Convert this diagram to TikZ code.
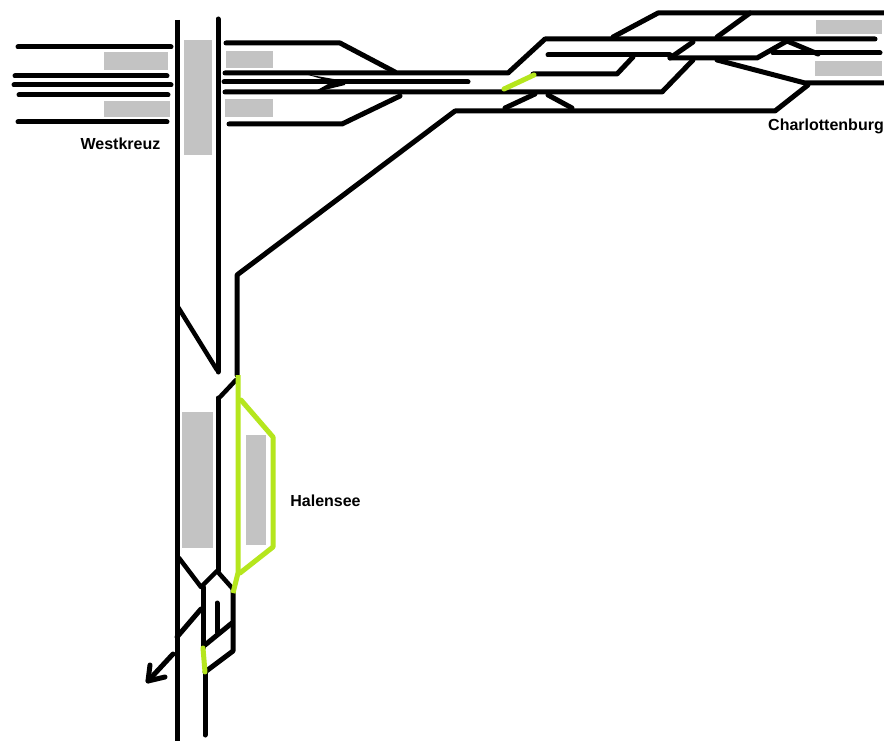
\documentclass[tikz,border=0pt]{standalone}
\usepackage{fontspec}
\setmainfont{Liberation Sans}
\definecolor{platgray}{HTML}{C3C3C3}
\definecolor{limeline}{HTML}{B5E61D}
\tikzset{
  track/.style={draw=black,line width=5pt,line cap=round,line join=round},
  thin track/.style={draw=black,line width=4.5pt,line cap=round,line join=round},
  lime/.style={draw=limeline,line width=5pt,line cap=round,line join=round},
  plat/.style={fill=platgray,draw=none},
  label/.style={font=\bfseries\fontsize{16}{18}\selectfont,inner sep=0pt,text=black}
}
\begin{document}
\begin{tikzpicture}[x=1pt,y=-1pt]
\useasboundingbox[fill=white] (0,0) rectangle (884,741);
% platforms
\fill[plat] (104,52) rectangle (168,70);
\fill[plat] (104,101) rectangle (170,117);
\fill[plat] (184,40) rectangle (212,155);
\fill[plat] (226,51) rectangle (273,68);
\fill[plat] (225,99) rectangle (273,117);
\fill[plat] (182,412) rectangle (213,548);
\fill[plat] (246,435) rectangle (266,545);
\fill[plat] (816,20) rectangle (882,34);
\fill[plat] (815,61) rectangle (882,76);
% west tracks
\draw[track] (18,47) -- (171,47);
\draw[track] (15,76) -- (167,76);
\draw[track] (14,85) -- (171,85);
\draw[track] (19,95) -- (168,95);
\draw[track] (18,122) -- (167,122);
% main verticals
\draw[track,line cap=butt] (177,20) -- (177,741);
\draw[track] (218,19) -- (218,372);
\draw[track] (218,398) -- (218,571);
\draw[track] (237,375) -- (237,275) -- (455,111) -- (775,111) -- (808,85);
% middle tracks
\draw[track] (226,43) -- (340,43) -- (395,72);
\draw[track] (225,73) -- (508,73) -- (545,39) -- (875,39);
\draw[track] (224,82) -- (468,82);
\draw[track] (225,92) -- (662,92) -- (693,60);
\draw[track] (229,124) -- (342,124) -- (400,96);
\fill[black] (305,74) -- (345,81) -- (345,85) -- (312,93) -- (328,84) -- (322,79) -- cycle;
% east tracks
\draw[track] (613,37) -- (658,13) -- (884,13);
\draw[track] (717,37) -- (750,13);
\draw[track] (548,55) -- (670,55);
\draw[track] (670,58) -- (693,42);
\draw[track] (670,58) -- (757,58) -- (787,41) -- (818,54);
\draw[track] (773,53) -- (880,53);
\draw[track] (533,74) -- (617,74) -- (633,57);
\draw[track] (717,60) -- (805,83) -- (884,83);
\draw[track] (505,108) -- (535,94);
\draw[track] (548,95) -- (572,108);
% switches on the verticals
\draw[thin track] (178,307) -- (217,370);
\draw[thin track] (220,397) -- (236,380);
% south junction
\draw[thin track] (179,558) -- (201,587) -- (217,571) -- (233,589);
\draw[track] (203,587) -- (203,648);
\draw[track] (205,672) -- (205,735);
\draw[track] (205,672) -- (233,651) -- (233,590);
\draw[track] (217,603) -- (217,632);
\draw[track] (205,645) -- (232,623);
\draw[track] (177,637) -- (201,609);
\draw[track] (173,654) -- (148,681);
\draw[track] (150,665) -- (148,681) -- (165,677);
% lime lines
\draw[lime] (504,89) -- (534,75);
\draw[lime,line cap=butt] (238,375) -- (238,573) -- (233,593);
\draw[lime] (241,400) -- (273,437) -- (273,547) -- (240,573);
\draw[lime] (203,648) -- (205,672);
% labels
\node[label,anchor=center] (westkreuz) at (120.5,143.5) {Westkreuz};
\node[label,anchor=center] (halensee) at (325.5,500.5) {Halensee};
\node[label,anchor=center] (charlottenburg) at (826,126.5) {Charlottenburg};
\end{tikzpicture}
\end{document}
